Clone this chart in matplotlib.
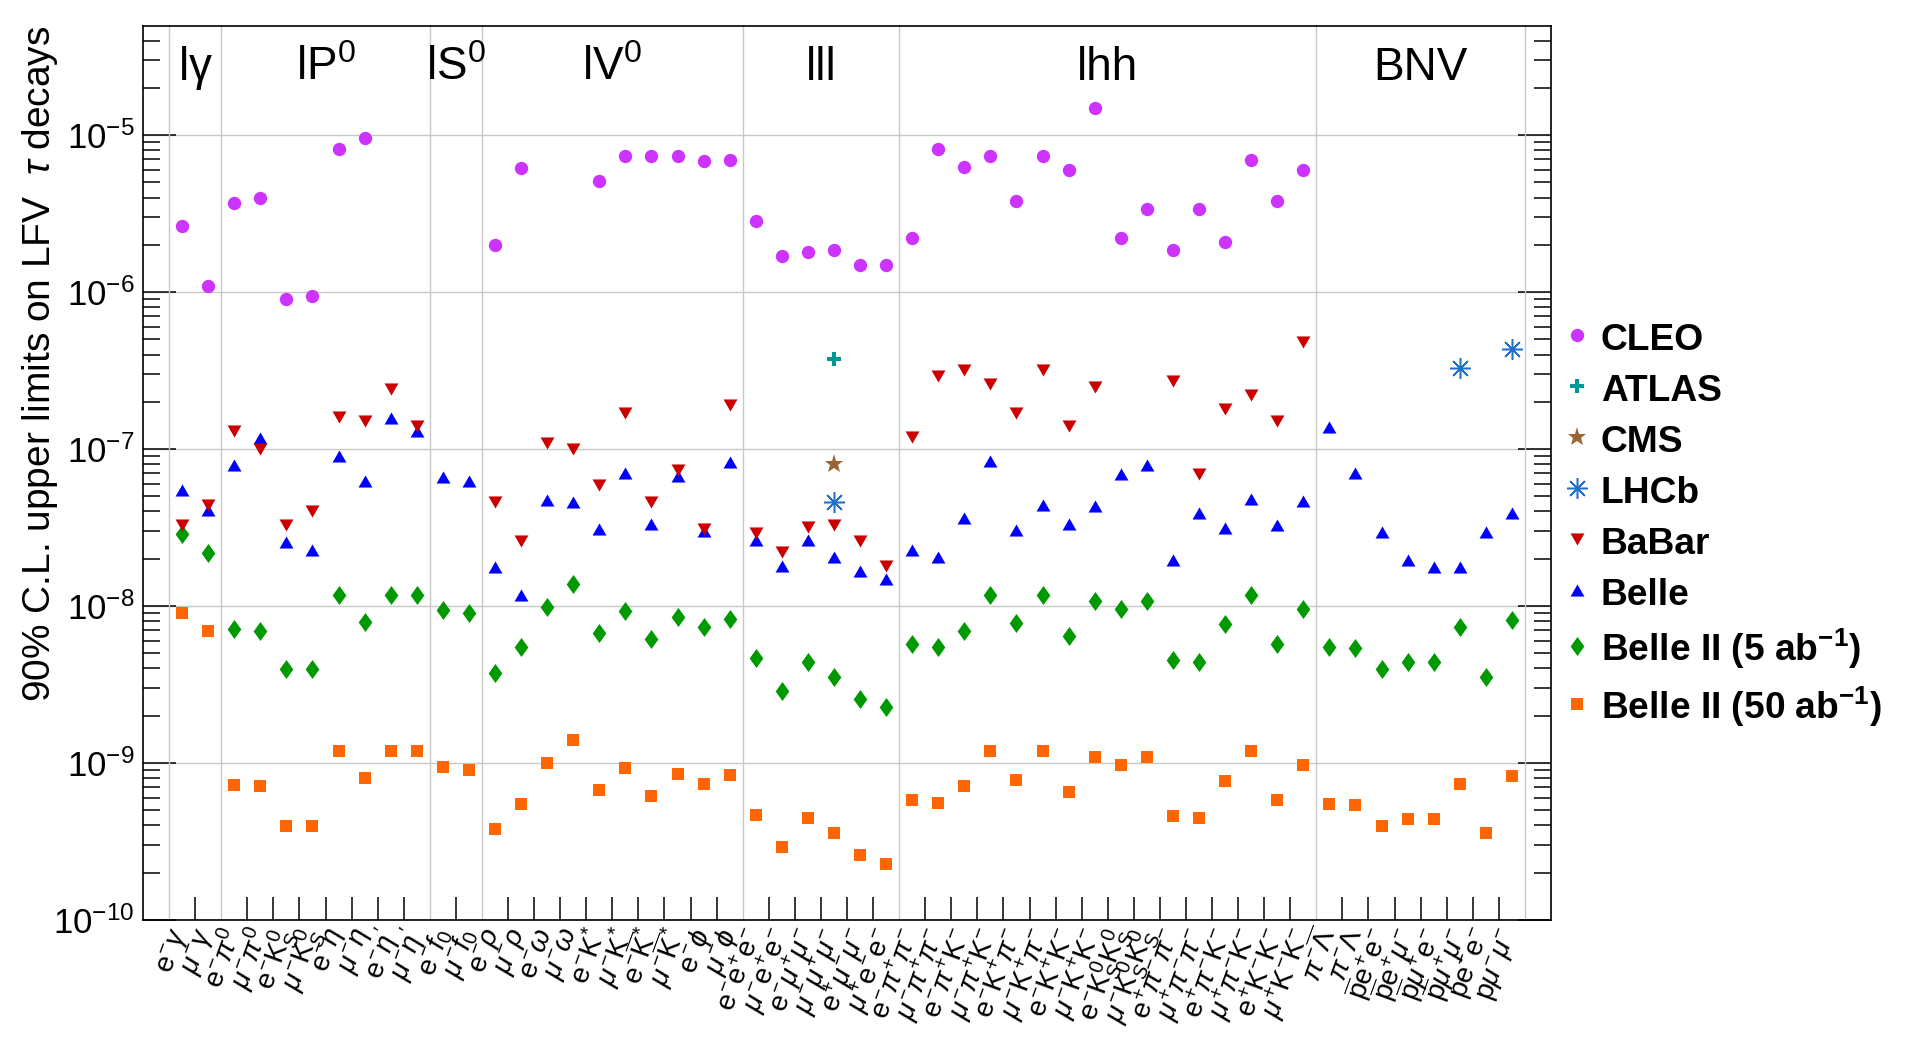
#!/usr/bin/env python3
'''
plot.py

Upper limits on LFV / BNV tau decays, compared with Belle II projections.
Writes out.png
'''

import numpy as np
import matplotlib
matplotlib.use('Agg')
import matplotlib.pyplot as plt
from matplotlib import ticker

nan = np.nan

#---------------------------------------------------------------------
# Data
#---------------------------------------------------------------------

decay_labels = [
    r'$\mathrm{e}^{-}\gamma$', r'$\mu^{-}\gamma$',
    r'$\mathrm{e}^{-}\pi^{0}$', r'$\mu^{-}\pi^{0}$',
    r'$\mathrm{e}^{-}\mathrm{K}^{0}_{S}$', r'$\mu^{-}\mathrm{K}^{0}_{S}$',
    r'$\mathrm{e}^{-}\eta$', r'$\mu^{-}\eta$',
    r"$\mathrm{e}^{-}\eta'$", r"$\mu^{-}\eta'$",
    r'$\mathrm{e}^{-}f_{0}$', r'$\mu^{-}f_{0}$',
    r'$\mathrm{e}^{-}\rho$', r'$\mu^{-}\rho$',
    r'$\mathrm{e}^{-}\omega$', r'$\mu^{-}\omega$',
    r'$\mathrm{e}^{-}\mathrm{K}^{*}$', r'$\mu^{-}\mathrm{K}^{*}$',
    r'$\mathrm{e}^{-}\overline{\mathrm{K}}^{*}$', r'$\mu^{-}\overline{\mathrm{K}}^{*}$',
    r'$\mathrm{e}^{-}\phi$', r'$\mu^{-}\phi$',
    r'$\mathrm{e}^{-}\mathrm{e}^{+}\mathrm{e}^{-}$', r'$\mu^{-}\mathrm{e}^{+}\mathrm{e}^{-}$',
    r'$\mathrm{e}^{-}\mu^{+}\mu^{-}$', r'$\mu^{-}\mu^{+}\mu^{-}$',
    r'$\mathrm{e}^{+}\mu^{-}\mu^{-}$', r'$\mu^{+}\mathrm{e}^{-}\mathrm{e}^{-}$',
    r'$\mathrm{e}^{-}\pi^{+}\pi^{-}$', r'$\mu^{-}\pi^{+}\pi^{-}$',
    r'$\mathrm{e}^{-}\pi^{+}\mathrm{K}^{-}$', r'$\mu^{-}\pi^{+}\mathrm{K}^{-}$',
    r'$\mathrm{e}^{-}\mathrm{K}^{+}\pi^{-}$', r'$\mu^{-}\mathrm{K}^{+}\pi^{-}$',
    r'$\mathrm{e}^{-}\mathrm{K}^{+}\mathrm{K}^{-}$', r'$\mu^{-}\mathrm{K}^{+}\mathrm{K}^{-}$',
    r'$\mathrm{e}^{-}\mathrm{K}^{0}_{S}\mathrm{K}^{0}_{S}$', r'$\mu^{-}\mathrm{K}^{0}_{S}\mathrm{K}^{0}_{S}$',
    r'$\mathrm{e}^{+}\pi^{-}\pi^{-}$', r'$\mu^{+}\pi^{-}\pi^{-}$',
    r'$\mathrm{e}^{+}\pi^{-}\mathrm{K}^{-}$', r'$\mu^{+}\pi^{-}\mathrm{K}^{-}$',
    r'$\mathrm{e}^{+}\mathrm{K}^{-}\mathrm{K}^{-}$', r'$\mu^{+}\mathrm{K}^{-}\mathrm{K}^{-}$',
    r'$\pi^{-}\overline{\Lambda}$', r'$\pi^{-}\Lambda$',
    r'$\overline{\mathrm{p}}\mathrm{e}^{+}\mathrm{e}^{-}$', r'$\overline{\mathrm{p}}\mathrm{e}^{+}\mu^{-}$',
    r'$\overline{\mathrm{p}}\mu^{+}\mathrm{e}^{-}$', r'$\overline{\mathrm{p}}\mu^{+}\mu^{-}$',
    r'$\mathrm{p}\mathrm{e}^{-}\mathrm{e}^{-}$', r'$\mathrm{p}\mu^{-}\mu^{-}$',
]

group_names = [r'l$\mathrm{\gamma}$', r'lP$^{0}$', r'lS$^{0}$', r'lV$^{0}$', 'lll', 'lhh', 'BNV']
group_sizes = [2, 8, 2, 10, 6, 16, 8]

decades = [1e-10, 1e-9, 1e-8, 1e-7, 1e-6, 1e-5]

cleo = [2.65e-6, 1.09e-6, 3.7e-6, 3.95e-6, 9.0e-7, 9.4e-7, 8.1e-6, 9.6e-6, nan, nan,
        nan, nan, 2.0e-6, 6.2e-6, nan, nan, 5.1e-6, 7.4e-6, 7.3e-6, 7.4e-6,
        6.8e-6, 6.9e-6, 2.85e-6, 1.7e-6, 1.8e-6, 1.86e-6, 1.48e-6, 1.48e-6, 2.2e-6, 8.1e-6,
        6.3e-6, 7.4e-6, 3.8e-6, 7.35e-6, 6.0e-6, 1.48e-5, 2.2e-6, 3.36e-6, 1.86e-6, 3.36e-6,
        2.07e-6, 6.9e-6, 3.8e-6, 6.0e-6, nan, nan, nan, nan, nan, nan,
        nan, nan]

atlas = [nan] * 25 + [3.76e-7] + [nan] * 26
cms = [nan] * 25 + [8.0e-8] + [nan] * 26
lhcb = [nan] * 25 + [4.6e-8] + [nan] * 23 + [3.26e-7, nan, 4.35e-7]

babar = [3.3e-8, 4.4e-8, 1.3e-7, 1.0e-7, 3.3e-8, 4.0e-8, 1.6e-7, 1.5e-7, 2.4e-7, 1.4e-7,
         nan, nan, 4.6e-8, 2.6e-8, 1.1e-7, 1.0e-7, 5.9e-8, 1.7e-7, 4.6e-8, 7.3e-8,
         3.1e-8, 1.9e-7, 2.9e-8, 2.2e-8, 3.2e-8, 3.3e-8, 2.6e-8, 1.8e-8, 1.2e-7, 2.9e-7,
         3.2e-7, 2.6e-7, 1.7e-7, 3.2e-7, 1.4e-7, 2.5e-7, nan, nan, 2.7e-7, 6.9e-8,
         1.8e-7, 2.2e-7, 1.5e-7, 4.8e-7, nan, nan, nan, nan, nan, nan,
         nan, nan]

belle = [5.5e-8, 4.1e-8, 7.9e-8, 1.18e-7, 2.55e-8, 2.27e-8, 9.0e-8, 6.3e-8, 1.58e-7, 1.3e-7,
         6.65e-8, 6.26e-8, 1.77e-8, 1.18e-8, 4.75e-8, 4.61e-8, 3.11e-8, 7.03e-8, 3.34e-8, 6.76e-8,
         3.02e-8, 8.25e-8, 2.65e-8, 1.79e-8, 2.63e-8, 2.06e-8, 1.67e-8, 1.48e-8, 2.27e-8, 2.06e-8,
         3.63e-8, 8.38e-8, 3.04e-8, 4.4e-8, 3.34e-8, 4.33e-8, 6.92e-8, 7.94e-8, 1.95e-8, 3.89e-8,
         3.14e-8, 4.79e-8, 3.26e-8, 4.64e-8, 1.38e-7, 7.03e-8, 2.95e-8, 1.96e-8, 1.77e-8, 1.77e-8,
         2.95e-8, 3.92e-8]

belle2_5 = [2.86e-8, 2.19e-8, 7.19e-9, 6.97e-9, 3.95e-9, 3.95e-9, 1.18e-8, 7.94e-9, 1.18e-8, 1.18e-8,
            9.4e-9, 8.98e-9, 3.77e-9, 5.45e-9, 9.92e-9, 1.39e-8, 6.71e-9, 9.26e-9, 6.17e-9, 8.45e-9,
            7.3e-9, 8.32e-9, 4.64e-9, 2.86e-9, 4.43e-9, 3.55e-9, 2.57e-9, 2.27e-9, 5.75e-9, 5.5e-9,
            6.97e-9, 1.18e-8, 7.76e-9, 1.18e-8, 6.41e-9, 1.08e-8, 9.62e-9, 1.08e-8, 4.54e-9, 4.40e-9,
            7.64e-9, 1.18e-8, 5.75e-9, 9.62e-9, 5.45e-9, 5.37e-9, 3.95e-9, 4.37e-9, 4.37e-9, 7.3e-9,
            3.55e-9, 8.19e-9]

belle2_50 = [9.05e-9, 6.92e-9, 7.24e-10, 7.13e-10, 3.95e-10, 3.95e-10, 1.19e-9, 8.0e-10, 1.19e-9, 1.19e-9,
             9.4e-10, 8.98e-10, 3.8e-10, 5.45e-10, 1.0e-9, 1.4e-9, 6.71e-10, 9.26e-10, 6.17e-10, 8.51e-10,
             7.36e-10, 8.38e-10, 4.64e-10, 2.9e-10, 4.47e-10, 3.58e-10, 2.59e-10, 2.29e-10, 5.8e-10, 5.54e-10,
             7.13e-10, 1.19e-9, 7.76e-10, 1.19e-9, 6.5e-10, 1.09e-9, 9.7e-10, 1.09e-9, 4.57e-10, 4.47e-10,
             7.64e-10, 1.19e-9, 5.8e-10, 9.7e-10, 5.45e-10, 5.37e-10, 3.95e-10, 4.4e-10, 4.4e-10, 7.36e-10,
             3.58e-10, 8.26e-10]


def main():

    #---------------------------------------------------------------------
    # 01. Style
    #---------------------------------------------------------------------

    plt.rcParams['font.family'] = ['Liberation Sans', 'DejaVu Sans']
    plt.rcParams['mathtext.fontset'] = 'custom'
    plt.rcParams['mathtext.rm'] = 'Liberation Sans'
    plt.rcParams['mathtext.it'] = 'Liberation Sans:italic'
    plt.rcParams['mathtext.bf'] = 'Liberation Sans:bold'
    plt.rcParams['mathtext.sf'] = 'Liberation Sans'

    n = len(decay_labels)
    x = np.arange(n)

    # group boundaries (bin edges between groups)
    bounds = np.concatenate([[0], np.cumsum(group_sizes)]) - 0.5

    fig = plt.figure(figsize=(19.16, 10.52), dpi=100)
    ax = fig.add_axes([0.07463, 0.12548, 0.73486, 0.84981])

    #---------------------------------------------------------------------
    # 02. Markers
    #---------------------------------------------------------------------

    tri_up = [(-1, -0.87), (1, -0.87), (0, 0.87)]
    tri_dn = [(-1, 0.87), (1, 0.87), (0, -0.87)]
    diamond = [(0, 1), (0.72, 0), (0, -1), (-0.72, 0)]

    def arr(v):
        return np.array(v, dtype=float)

    h_b2_50, = ax.plot(x, arr(belle2_50), ls='none', marker='s', ms=8.6, mew=0,
                       color='#ff6600', zorder=3)
    h_b2_5, = ax.plot(x, arr(belle2_5), ls='none', marker=diamond, ms=13.7, mew=0,
                      color='#009900', zorder=3)
    h_belle, = ax.plot(x, arr(belle), ls='none', marker=tri_up, ms=10, mew=0,
                       color='#0000ff', zorder=3)
    h_babar, = ax.plot(x, arr(babar), ls='none', marker=tri_dn, ms=10, mew=0,
                       color='#cc0000', zorder=3)
    h_lhcb, = ax.plot(x, arr(lhcb), ls='none', marker=(8, 2, 0), ms=15, mew=1.1,
                      color='#1f6fcc', zorder=3)
    h_cms, = ax.plot(x, arr(cms), ls='none', marker='*', ms=14, mew=0,
                     color='#996633', zorder=3)
    h_atlas, = ax.plot(x, arr(atlas), ls='none', marker='P', ms=9.4, mew=0,
                       color='#009999', zorder=3)
    h_cleo, = ax.plot(x, arr(cleo), ls='none', marker='o', ms=9.6, mew=0,
                      color='#cc33ff', zorder=3)

    #---------------------------------------------------------------------
    # 03. Axes
    #---------------------------------------------------------------------

    ax.set_yscale('log')
    ax.set_ylim(1e-10, 4.95e-5)
    ax.set_xlim(-1.5, n + 0.5)

    for b in bounds:
        ax.axvline(b, color='#c8c8c8', lw=1.0, zorder=1)
    ax.yaxis.grid(True, which='major', color='#c8c8c8', lw=1.0, zorder=1)
    ax.set_axisbelow(True)

    for s in ax.spines.values():
        s.set_linewidth(1.2)

    # ticks at the bin edges, labels at the bin centres
    edges = [e for e in np.arange(0.5, n - 1, 1.0) if not np.any(np.isclose(e, bounds))]
    ax.set_xticks(edges)
    ax.set_xticklabels([])
    ax.tick_params(axis='x', which='major', direction='in', length=16.5, width=1.1,
                   bottom=True, top=False)
    ax.set_xticks(x, decay_labels, minor=True)
    ax.tick_params(axis='x', which='minor', length=0, pad=7, labelsize=20.5)
    for lab in ax.get_xticklabels(minor=True):
        lab.set_rotation(70)
        lab.set_ha('right')
        lab.set_va('center')
        lab.set_rotation_mode('anchor')

    ax.yaxis.set_major_locator(ticker.FixedLocator(decades))
    ax.yaxis.set_major_formatter(ticker.LogFormatterSciNotation())
    ax.yaxis.set_minor_locator(ticker.LogLocator(base=10, subs=np.arange(2, 10), numticks=20))
    ax.yaxis.set_minor_formatter(ticker.NullFormatter())
    ax.tick_params(axis='y', which='both', direction='in', left=True, right=True, width=1.1)
    ax.tick_params(axis='y', which='major', length=24, labelsize=25, pad=6)
    ax.tick_params(axis='y', which='minor', length=12)

    ax.set_ylabel('90% C.L. upper limits on LFV  $\\tau$ decays', fontsize=28, loc='top')
    ax.yaxis.set_label_coords(-0.059, 1.0)

    # group names across the top
    start = 0
    for name, size in zip(group_names, group_sizes):
        xc = start + (size - 1) / 2.0
        ax.text(xc, 0.9396, name, transform=ax.get_xaxis_transform(), fontsize=33,
                ha='center', va='baseline')
        start += size

    #---------------------------------------------------------------------
    # 04. Legend
    #---------------------------------------------------------------------

    handles = [h_cleo, h_atlas, h_cms, h_lhcb, h_babar, h_belle, h_b2_5, h_b2_50]
    labels = ['CLEO', 'ATLAS', 'CMS', 'LHCb', 'BaBar', 'Belle',
              r'Belle II (5 ab$^{\mathbf{-1}}$)', r'Belle II (50 ab$^{\mathbf{-1}}$)']
    ax.legend(handles, labels, loc='center left', bbox_to_anchor=(0.8035, 0.5014),
              bbox_transform=fig.transFigure, frameon=False, borderpad=0,
              prop={'family': 'Liberation Sans', 'weight': 'bold', 'size': 26.7},
              handlelength=1.0, handletextpad=0.15, handleheight=1.0, labelspacing=0.37,
              numpoints=1)

    fig.savefig('out.png', dpi=100)
    plt.close(fig)


if __name__ == '__main__':
    main()
